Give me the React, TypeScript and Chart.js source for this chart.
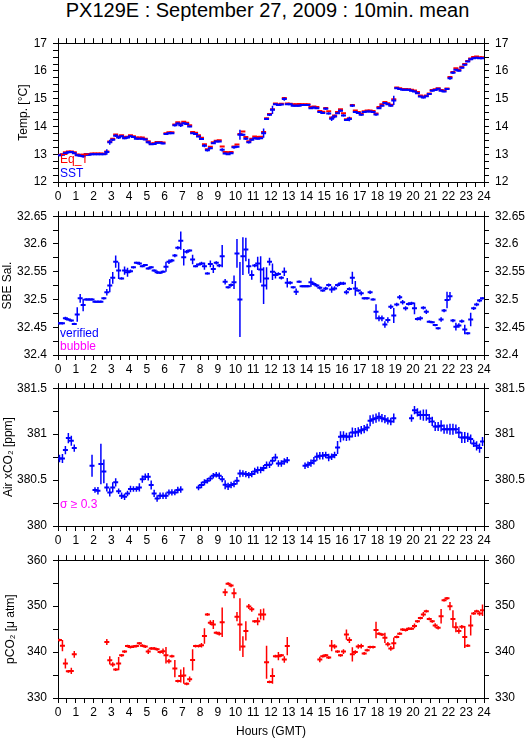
import React, { useEffect, useRef } from "react";
import { Chart, registerables } from "chart.js";

Chart.register(...registerables);
Chart.defaults.font.family = '"Liberation Sans", Arial, Helvetica, sans-serif';
Chart.defaults.font.size = 12;
Chart.defaults.color = "#000";

// ---------- data (10-minute means, 144 bins per day) ----------
const titleText = "PX129E : September 27, 2009 : 10min. mean";
const hourTicks = [0, 24];
const binMinutes = 10;

const sstValues = [
  12.96, 12.98, 13.04, 13.07, 13.08, 13.04,
  12.96, 12.95, 12.93, 12.98, 12.98, 13.0,
  13.0, 13.0, 13.0, 13.0, 13.08, 13.43,
  13.52, 13.67, 13.6, 13.65, 13.58, 13.6,
  13.65, 13.62, 13.56, 13.56, 13.56, 13.53,
  13.43, 13.36, 13.37, 13.41, 13.41, 13.39,
  13.73, 13.76, 13.76, 14.04, 14.11, 14.04,
  14.12, 14.09, 14.0, 13.76, 13.73, 13.64,
  13.55, 13.31, 13.14, 13.22, 13.4, 13.46,
  13.46, 13.16, 13.03, 13.0, 13.04, 13.25,
  13.27, 13.7, 13.7, 13.56, 13.43, 13.52,
  13.58, 13.56, 13.58, 13.76, 14.27, 14.42,
  14.6, 14.8, 14.77, 14.79, 14.99, 14.8,
  14.8, 14.75, 14.75, 14.75, 14.77, 14.77,
  14.77, 14.66, 14.68, 14.66, 14.52, 14.49,
  14.64, 14.47, 14.28, 14.36, 14.48, 14.57,
  14.4, 14.23, 14.27, 14.75, 14.52, 14.49,
  14.42, 14.52, 14.54, 14.54, 14.52, 14.43,
  14.66, 14.75, 14.85, 14.8, 14.75, 14.94,
  15.38, 15.35, 15.32, 15.32, 15.32, 15.29,
  15.26, 15.2, 15.08, 15.04, 15.09, 15.17,
  15.29, 15.31, 15.36, 15.29, 15.26, 15.35,
  15.74, 15.94, 16.04, 16.01, 16.12, 16.22,
  16.34, 16.42, 16.46, 16.48, 16.46, 16.46,
];
const sstErrors = [
  0.03, 0.03, 0.03, 0.04, 0.03, 0.03,
  0.03, 0.04, 0.06, 0.03, 0.03, 0.03,
  0.02, 0.02, 0.02, 0.02, 0.1, 0.09,
  0.04, 0.05, 0.05, 0.03, 0.04, 0.04,
  0.03, 0.03, 0.03, 0.02, 0.03, 0.03,
  0.04, 0.03, 0.03, 0.03, 0.02, 0.03,
  0.03, 0.03, 0.03, 0.04, 0.03, 0.06,
  0.03, 0.04, 0.03, 0.03, 0.03, 0.03,
  0.03, 0.06, 0.04, 0.04, 0.03, 0.03,
  0.03, 0.06, 0.03, 0.03, 0.03, 0.05,
  0.04, 0.18, 0.04, 0.05, 0.04, 0.03,
  0.03, 0.03, 0.03, 0.17, 0.04, 0.04,
  0.15, 0.03, 0.03, 0.03, 0.06, 0.03,
  0.03, 0.03, 0.03, 0.03, 0.03, 0.03,
  0.03, 0.03, 0.03, 0.03, 0.03, 0.03,
  0.04, 0.04, 0.08, 0.06, 0.03, 0.04,
  0.04, 0.03, 0.08, 0.05, 0.03, 0.03,
  0.03, 0.03, 0.03, 0.03, 0.03, 0.04,
  0.03, 0.03, 0.03, 0.03, 0.04, 0.17,
  0.03, 0.03, 0.03, 0.03, 0.03, 0.03,
  0.03, 0.03, 0.03, 0.03, 0.03, 0.03,
  0.03, 0.03, 0.03, 0.03, 0.03, 0.03,
  0.06, 0.05, 0.03, 0.03, 0.03, 0.03,
  0.03, 0.03, 0.03, 0.03, 0.03, 0.03,
];
const eqTValues = [
  12.98, 13.0, 13.07, 13.1, 13.1, 13.07,
  12.99, 12.98, 12.98, 13.01, 13.01, 13.03,
  13.03, 13.03, 13.03, 13.02, 13.1, 13.46,
  13.56, 13.71, 13.64, 13.68, 13.62, 13.63,
  13.68, 13.65, 13.6, 13.6, 13.6, 13.56,
  13.47, 13.39, 13.4, 13.44, 13.44, 13.42,
  13.76, 13.79, 13.79, 14.07, 14.15, 14.1,
  14.17, 14.13, 14.04, 13.8, 13.77, 13.68,
  13.59, 13.36, 13.18, 13.27, 13.43, 13.49,
  13.5, 13.28, 13.08, 13.07, 13.08, 13.28,
  13.35, 13.73, 13.82, 13.62, 13.47, 13.56,
  13.64, 13.62, 13.63, 13.8, 14.3, 14.45,
  14.62, 14.83, 14.8, 14.82, 15.03, 14.83,
  14.82, 14.8, 14.8, 14.81, 14.8, 14.8,
  14.8, 14.7, 14.72, 14.7, 14.56, 14.53,
  14.67, 14.55, 14.32, 14.4, 14.52, 14.62,
  14.48, 14.26, 14.3, 14.77, 14.58, 14.52,
  14.46, 14.55, 14.58, 14.58, 14.56, 14.47,
  14.7, 14.8, 14.88, 14.84, 14.78, 14.98,
  15.4, 15.38, 15.35, 15.35, 15.34, 15.32,
  15.3, 15.24, 15.12, 15.08, 15.12, 15.19,
  15.31, 15.34, 15.38, 15.31, 15.3, 15.37,
  15.78, 15.96, 16.1, 16.04, 16.15, 16.25,
  16.36, 16.45, 16.5, 16.52, 16.49, 16.49,
];
const salinityValues = [
  32.457, 32.457, 32.466, 32.464, 32.462, 32.456,
  32.473, 32.502, 32.49, 32.5, 32.5, 32.5,
  32.496, 32.496, 32.496, 32.502, 32.513, 32.525,
  32.539, 32.568, 32.552, 32.538, 32.552, 32.549,
  32.551, 32.558, 32.566, 32.565, 32.56, 32.562,
  32.556, 32.558, 32.552, 32.549, 32.548, 32.55,
  32.559, 32.568, 32.57, 32.579, 32.593, 32.606,
  32.576, 32.586, 32.588, 32.572, 32.56, 32.563,
  32.565, 32.56, 32.547, 32.564, 32.555, 32.566,
  32.561, 32.578, 32.532, 32.522, 32.526, 32.531,
  32.583, 32.5, 32.578, 32.59, 32.56, 32.544,
  32.561, 32.565, 32.554, 32.525, 32.538, 32.568,
  32.55, 32.544, 32.546, 32.539, 32.55, 32.53,
  32.53, 32.522, 32.514, 32.532, 32.524, 32.524,
  32.524, 32.531, 32.528, 32.525, 32.521, 32.516,
  32.52, 32.526, 32.518, 32.52, 32.526, 32.529,
  32.529, 32.513, 32.519, 32.539, 32.52, 32.516,
  32.511, 32.502, 32.502, 32.513, 32.5, 32.478,
  32.466, 32.466, 32.455, 32.463, 32.487, 32.471,
  32.491, 32.504, 32.495, 32.484, 32.492, 32.493,
  32.484, 32.465, 32.466, 32.485, 32.478, 32.46,
  32.459, 32.454, 32.448, 32.464, 32.48, 32.499,
  32.506, 32.462, 32.451, 32.453, 32.461, 32.446,
  32.439, 32.464, 32.484, 32.491, 32.498, 32.502,
];
const salinityErrors = [
  0.002, 0.002, 0.003, 0.002, 0.002, 0.002,
  0.013, 0.008, 0.011, 0.002, 0.002, 0.002,
  0.002, 0.002, 0.002, 0.002, 0.006, 0.012,
  0.0105, 0.011, 0.015, 0.002, 0.0075, 0.008,
  0.003, 0.002, 0.002, 0.003, 0.002, 0.002,
  0.002, 0.002, 0.002, 0.003, 0.002, 0.002,
  0.009, 0.004, 0.003, 0.003, 0.003, 0.0165,
  0.015, 0.003, 0.002, 0.0085, 0.002, 0.002,
  0.003, 0.0066, 0.002, 0.006, 0.0075, 0.003,
  0.003, 0.02, 0.005, 0.002, 0.003, 0.012,
  0.026, 0.0675, 0.034, 0.021, 0.0135, 0.0085,
  0.003, 0.012, 0.024, 0.033, 0.02, 0.007,
  0.015, 0.006, 0.003, 0.003, 0.0075, 0.0085,
  0.003, 0.002, 0.006, 0.002, 0.002, 0.002,
  0.002, 0.008, 0.003, 0.003, 0.003, 0.002,
  0.003, 0.003, 0.006, 0.004, 0.003, 0.003,
  0.003, 0.004, 0.003, 0.011, 0.0135, 0.002,
  0.004, 0.002, 0.002, 0.003, 0.002, 0.0135,
  0.005, 0.005, 0.006, 0.005, 0.004, 0.0135,
  0.003, 0.004, 0.004, 0.004, 0.003, 0.003,
  0.0105, 0.003, 0.004, 0.003, 0.004, 0.002,
  0.002, 0.002, 0.002, 0.004, 0.003, 0.015,
  0.0075, 0.003, 0.007, 0.004, 0.003, 0.0085,
  0.002, 0.012, 0.003, 0.003, 0.003, 0.002,
];
const xco2Values = [
  380.735, 380.735, 380.826, 380.957, 380.928, 380.848,
  null, null, null, null, null, 380.656,
  380.391, 380.384, 380.674, 380.594, 380.42, 380.366,
  380.42, 380.475, 380.377, 380.33, 380.319, 380.355,
  380.402, 380.402, 380.402, 380.42, 380.51, 380.536,
  380.536, 380.446, 380.355, 380.3, 380.33, 380.33,
  380.33, 380.366, 380.366, 380.366, 380.391, 380.398,
  null, null, null, null, null, 380.42,
  380.446, 380.475, 380.493, 380.518, 380.547, 380.558,
  380.547, 380.51, 380.449, 380.431, 380.446, 380.457,
  380.493, 380.572, 380.572, 380.565, 380.554, 380.565,
  380.594, 380.609, 380.609, 380.63, 380.663, 380.667,
  380.71, 380.746, 380.68, 380.68, 380.703, 380.717,
  null, null, null, null, null, 380.656,
  380.667, 380.685, 380.71, 380.754, 380.765, 380.765,
  380.772, 380.746, 380.754, 380.772, 380.855, 380.971,
  380.982, 380.971, 380.975, 381.018, 381.018, 381.025,
  381.043, 381.054, 381.072, 381.145, 381.163, 381.174,
  381.188, 381.174, 381.163, 381.145, 381.138, 381.174,
  null, null, null, null, null, 381.174,
  381.261, 381.236, 381.207, 381.207, 381.207, 381.17,
  381.138, 381.083, 381.083, 381.09, 381.054, 381.054,
  381.054, 381.054, 381.054, 381.018, 380.964, 380.964,
  380.964, 380.946, 380.899, 380.873, 380.848, 380.92,
];
const xco2Errors = [
  0.04, 0.05, 0.045, 0.055, 0.055, 0.04,
  0, 0, 0, 0, 0, 0.12,
  0.03, 0.04, 0.22, 0.13, 0.045, 0.045,
  0.055, 0.045, 0.03, 0.035, 0.035, 0.03,
  0.035, 0.03, 0.03, 0.045, 0.04, 0.035,
  0.04, 0.05, 0.04, 0.035, 0.035, 0.035,
  0.035, 0.03, 0.035, 0.03, 0.035, 0.035,
  0, 0, 0, 0, 0, 0.03,
  0.035, 0.035, 0.03, 0.03, 0.03, 0.03,
  0.035, 0.035, 0.05, 0.04, 0.035, 0.035,
  0.04, 0.04, 0.035, 0.035, 0.035, 0.035,
  0.04, 0.04, 0.035, 0.035, 0.04, 0.035,
  0.04, 0.04, 0.035, 0.035, 0.035, 0.035,
  0, 0, 0, 0, 0, 0.035,
  0.035, 0.04, 0.04, 0.045, 0.04, 0.04,
  0.035, 0.04, 0.035, 0.035, 0.07, 0.06,
  0.05, 0.045, 0.045, 0.055, 0.05, 0.05,
  0.045, 0.045, 0.04, 0.06, 0.05, 0.05,
  0.05, 0.045, 0.045, 0.04, 0.04, 0.05,
  0, 0, 0, 0, 0, 0.04,
  0.045, 0.045, 0.05, 0.06, 0.06, 0.05,
  0.05, 0.05, 0.05, 0.06, 0.05, 0.05,
  0.06, 0.06, 0.05, 0.06, 0.06, 0.06,
  0.05, 0.05, 0.04, 0.05, 0.05, 0.05,
];
const pco2Values = [
  342.6, 341.4, 337.5, 335.8, 335.9, 339.5,
  null, null, null, null, null, null,
  null, null, null, null, 342.2, 338.2,
  337.3, 336.2, 337.5, 339.3, 340.1, 341.3,
  341.1, 341.2, 341.3, 341.9, 341.4, 341.2,
  340.1, 340.8, 340.8, 340.6, 340.0, 340.2,
  339.3, 338.0, 339.1, 336.4, 333.7, 334.8,
  334.9, 333.1, 334.1, 338.3, 341.3, 341.3,
  341.5, 343.5, 348.2, 346.4, 346.0, 344.2,
  344.0, 346.5, 353.0, 354.9, 354.5, 352.8,
  347.7, 346.0, 341.2, 344.6, 349.9, 349.3,
  346.7, 346.7, 348.2, 348.2, 337.8, 333.5,
  334.8, 339.1, 339.1, 339.3, 338.4, 341.3,
  null, null, null, null, null, null,
  null, null, null, null, 338.4, 339.1,
  339.3, 338.8, 341.4, 341.2, 340.1, 339.3,
  340.1, 343.8, 342.6, 339.5, 340.0, 341.2,
  341.3, 339.7, 340.4, 341.1, 341.1, 344.8,
  344.0, 343.8, 343.1, 341.7, 340.8, 341.9,
  343.3, 344.0, 344.9, 344.8, 345.1, 345.1,
  345.7, 346.7, 347.4, 348.2, 348.9, 347.2,
  346.7, 345.8, 345.3, 347.8, 351.3, 351.7,
  350.0, 347.2, 345.4, 344.6, 345.5, 343.3,
  341.4, 345.8, 348.4, 348.9, 348.4, 349.1,
];
const pco2Errors = [
  0.3, 1.2, 1.1, 0.3, 0.7, 0.72,
  0, 0, 0, 0, 0, 0,
  0, 0, 0, 0, 0.65, 0.9,
  0.5, 0.3, 1.45, 0.3, 0.3, 0.3,
  0.3, 0.3, 0.3, 0.3, 0.3, 0.3,
  0.5, 0.3, 0.3, 0.3, 0.3, 0.6,
  1.8, 0.5, 0.3, 1.9, 0.3, 1.4,
  1.8, 0.3, 0.6, 2.3, 0.3, 0.3,
  0.5, 1.7, 0.3, 0.5, 1.0, 0.3,
  0.4, 3.2, 0.8, 0.3, 0.4, 1.1,
  1.0, 5.7, 2.25, 2.1, 0.55, 0.5,
  0.3, 0.85, 1.1, 1.3, 3.6, 0.3,
  1.7, 0.3, 0.9, 0.3, 0.7, 2.0,
  0, 0, 0, 0, 0, 0,
  0, 0, 0, 0, 0.6, 0.3,
  0.3, 0.3, 1.2, 0.5, 0.3, 0.3,
  0.5, 1.1, 0.6, 1.55, 0.4, 0.5,
  0.5, 0.3, 0.3, 0.3, 0.3, 1.8,
  0.3, 0.3, 1.1, 0.5, 0.5, 1.25,
  0.3, 0.3, 0.3, 0.3, 0.3, 0.3,
  0.5, 0.3, 0.3, 0.5, 0.3, 0.3,
  0.3, 0.5, 0.4, 1.6, 0.3, 0.3,
  0.9, 1.9, 1.1, 0.6, 0.4, 2.4,
  0.3, 2.2, 0.3, 0.3, 0.5, 1.25,
];

// ---------- styling ----------
const BLUE = "#0000ff";
const RED = "#ff0000";
const MAGENTA = "#ff00ff";
const FONT = '"Liberation Sans", Arial, Helvetica, sans-serif';
const CANVAS_W = 529;
const LEFT_W = 58;
const RIGHT_W = 45;

const binCenter = (i: number) => ((i + 0.5) * binMinutes) / 60;

function marks(values: (number | null)[]) {
  const out: { x: number; y: number }[] = [];
  values.forEach((v, i) => {
    if (v !== null) out.push({ x: binCenter(i), y: v });
  });
  return out;
}
function errorBars(values: (number | null)[], errs: number[]) {
  const out: { x: number; y: number | null }[] = [];
  values.forEach((v, i) => {
    if (v === null) return;
    const x = binCenter(i);
    out.push({ x, y: v - errs[i] }, { x, y: v + errs[i] }, { x, y: null });
  });
  return out;
}
function markSet(values: (number | null)[], color: string) {
  return {
    type: "scatter" as const,
    data: marks(values),
    pointStyle: "line",
    pointRadius: 2.5,
    pointBorderWidth: 2,
    pointBorderColor: color,
    pointBackgroundColor: color,
    borderColor: color,
    backgroundColor: color,
    showLine: false,
  };
}
function errSet(values: (number | null)[], errs: number[], color: string) {
  return {
    type: "line" as const,
    data: errorBars(values, errs),
    borderColor: color,
    backgroundColor: color,
    borderWidth: 1.5,
    pointRadius: 0,
    spanGaps: false,
    showLine: true,
    tension: 0,
    borderCapStyle: "butt",
  };
}

const notesPlugin = {
  id: "notes",
  afterDatasetsDraw(chart: any, _args: any, opts: any) {
    const { ctx, chartArea } = chart;
    (opts.items || []).forEach((n: any) => {
      ctx.save();
      ctx.font = `12px ${FONT}`;
      ctx.fillStyle = n.color;
      ctx.textBaseline = "alphabetic";
      ctx.textAlign = "left";
      ctx.fillText(n.text, chartArea.left + n.dx, chartArea.bottom - n.dy);
      ctx.restore();
    });
  },
};

type PanelSpec = {
  top: number;
  topH: number;
  plotH: number;
  botH: number;
  yMin: number;
  yMax: number;
  yStep: number;
  yMajor: number;
  yTitle: string;
  yTitlePad: number;
  xTitle?: string;
  datasets: any[];
  notes: { text: string; color: string; dx: number; dy: number }[];
};

const gridOpts = {
  drawOnChartArea: false,
  drawTicks: true,
  tickLength: 5,
  color: "#000",
  tickColor: "#000",
  lineWidth: 1,
};
const borderOpts = { display: true, color: "#000", width: 1 };

function buildConfig(p: PanelSpec) {
  const majorCb = (v: any) => {
    const r = Number(v) / p.yMajor;
    return Math.abs(r - Math.round(r)) < 1e-6 ? String(parseFloat(Number(v).toFixed(3))) : "";
  };
  const xCb = (v: any) => (Math.abs(Number(v) - Math.round(Number(v))) < 1e-9 ? String(Math.round(Number(v))) : "");
  const yAxis = (position: "left" | "right") => ({
    type: "linear",
    position,
    min: p.yMin,
    max: p.yMax,
    stacked: false,
    ticks: {
      stepSize: p.yStep,
      autoSkip: false,
      padding: 6,
      color: "#000",
      font: { size: 12, family: FONT },
      callback: majorCb,
    },
    grid: gridOpts,
    border: borderOpts,
    title:
      position === "left"
        ? {
            display: true,
            text: p.yTitle,
            color: "#000",
            font: { size: 12, family: FONT },
            padding: { top: p.yTitlePad, bottom: 0 },
          }
        : { display: false },
    afterFit: (s: any) => {
      s.width = position === "left" ? LEFT_W : RIGHT_W;
    },
  });
  const xAxis = (position: "top" | "bottom") => ({
    type: "linear",
    position,
    min: hourTicks[0],
    max: hourTicks[1],
    offset: false,
    ticks: {
      display: position === "bottom",
      stepSize: 0.5,
      autoSkip: false,
      maxRotation: 0,
      minRotation: 0,
      padding: 2,
      color: "#000",
      font: { size: 12, family: FONT },
      callback: xCb,
    },
    grid: { ...gridOpts, offset: false },
    border: borderOpts,
    title:
      position === "bottom" && p.xTitle
        ? {
            display: true,
            text: p.xTitle,
            color: "#000",
            font: { size: 12, family: FONT },
            padding: { top: 0, bottom: 0 },
          }
        : { display: false },
    afterFit: (s: any) => {
      s.height = position === "bottom" ? p.botH : p.topH;
    },
  });
  return {
    type: "scatter",
    data: { datasets: p.datasets },
    plugins: [notesPlugin],
    options: {
      responsive: false,
      maintainAspectRatio: false,
      animation: false,
      events: [],
      layout: { padding: 0 },
      plugins: {
        legend: { display: false },
        tooltip: { enabled: false },
        title: { display: false },
        notes: { items: p.notes },
      },
      scales: {
        x: xAxis("bottom"),
        x2: xAxis("top"),
        y: yAxis("left"),
        y2: yAxis("right"),
      },
    },
  } as any;
}

const panels: PanelSpec[] = [
  {
    top: 30, topH: 13, plotH: 139, botH: 20,
    yMin: 12, yMax: 17, yStep: 0.25, yMajor: 1,
    yTitle: "Temp. [°C]", yTitlePad: 16.8,
    datasets: [markSet(sstValues, BLUE), errSet(sstValues, sstErrors, BLUE), markSet(eqTValues, RED)],
    notes: [
      { text: "Eq_T", color: RED, dx: 2, dy: 19 },
      { text: "SST", color: BLUE, dx: 2, dy: 5 },
    ],
  },
  {
    top: 203, topH: 13, plotH: 139, botH: 20,
    yMin: 32.4, yMax: 32.65, yStep: 0.025, yMajor: 0.05,
    yTitle: "SBE Sal.", yTitlePad: 0.8,
    datasets: [markSet(salinityValues, BLUE), errSet(salinityValues, salinityErrors, BLUE)],
    notes: [
      { text: "verified", color: BLUE, dx: 2, dy: 18 },
      { text: "bubble", color: MAGENTA, dx: 2, dy: 5 },
    ],
  },
  {
    top: 375, topH: 13, plotH: 138, botH: 20,
    yMin: 380, yMax: 381.5, yStep: 0.25, yMajor: 0.5,
    yTitle: "Air xCO₂ [ppm]", yTitlePad: 1.8,
    datasets: [markSet(xco2Values, BLUE), errSet(xco2Values, xco2Errors, BLUE)],
    notes: [{ text: "σ ≥ 0.3", color: MAGENTA, dx: 2, dy: 18 }],
  },
  {
    top: 547, topH: 13, plotH: 138, botH: 41,
    yMin: 330, yMax: 360, yStep: 5, yMajor: 10,
    yTitle: "pCO₂ [μ atm]", yTitlePad: 3.8,
    xTitle: "Hours (GMT)",
    datasets: [markSet(pco2Values, RED), errSet(pco2Values, pco2Errors, RED)],
    notes: [],
  },
];

function Panel({ spec }: { spec: PanelSpec }) {
  const ref = useRef<HTMLCanvasElement | null>(null);
  const height = spec.topH + spec.plotH + spec.botH;
  useEffect(() => {
    if (!ref.current) return;
    const chart = new Chart(ref.current, buildConfig(spec));
    return () => chart.destroy();
  }, [spec]);
  return (
    <canvas
      ref={ref}
      width={CANVAS_W}
      height={height}
      style={{ position: "absolute", left: 0, top: spec.top, width: CANVAS_W, height, display: "block" }}
    />
  );
}

export default function App() {
  return (
    <div style={{ position: "absolute", left: 0, top: 0, width: 529, height: 739, background: "#fff", overflow: "hidden" }}>
      <div
        style={{
          position: "absolute",
          left: 0,
          top: 0,
          width: 535,
          height: 22,
          textAlign: "center",
          fontFamily: FONT,
          fontSize: 20,
          lineHeight: "20px",
          color: "#000",
          whiteSpace: "nowrap",
        }}
      >
        {titleText}
      </div>
      {panels.map((p, i) => (
        <Panel key={i} spec={p} />
      ))}
    </div>
  );
}
